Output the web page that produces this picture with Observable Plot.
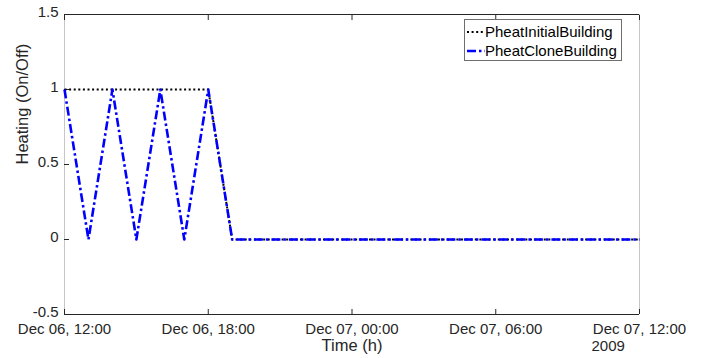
<!DOCTYPE html>
<html>
<head>
<meta charset="utf-8">
<script src="https://cdn.jsdelivr.net/npm/d3@7"></script>
<script src="https://cdn.jsdelivr.net/npm/@observablehq/plot@0.6"></script>
<style>
  html, body { margin: 0; padding: 0; background: #fff; }
  #wrap { position: relative; width: 701px; height: 358px; font-family: "Liberation Sans", Arial, sans-serif; }
  #legend { position: absolute; left: 464px; top: 19px; width: 156px; height: 40px; border: 1px solid #6e6e6e; background: #fff; font-size: 15px; color: #000; }
  .row { position: absolute; left: 0; height: 19px; display: flex; align-items: center; white-space: nowrap; }
  .row svg { margin-left: 2px; margin-right: 0px; }
</style>
</head>
<body>
<div id="wrap"></div>
<script>
// ---- data ----
const times = [
  "2009-12-06T12:00Z","2009-12-06T13:00Z","2009-12-06T14:00Z","2009-12-06T15:00Z",
  "2009-12-06T16:00Z","2009-12-06T17:00Z","2009-12-06T18:00Z","2009-12-06T19:00Z",
  "2009-12-06T20:00Z","2009-12-06T21:00Z","2009-12-06T22:00Z","2009-12-06T23:00Z",
  "2009-12-07T00:00Z","2009-12-07T01:00Z","2009-12-07T02:00Z","2009-12-07T03:00Z",
  "2009-12-07T04:00Z","2009-12-07T05:00Z","2009-12-07T06:00Z","2009-12-07T07:00Z",
  "2009-12-07T08:00Z","2009-12-07T09:00Z","2009-12-07T10:00Z","2009-12-07T11:00Z",
  "2009-12-07T12:00Z"
];
const pheatInitial = [1,1,1,1,1,1,1,0,0,0,0,0,0,0,0,0,0,0,0,0,0,0,0,0,0];
const pheatClone   = [1,0,1,0,1,0,1,0,0,0,0,0,0,0,0,0,0,0,0,0,0,0,0,0,0];
const seriesNames = ["PheatInitialBuilding", "PheatCloneBuilding"];
const xTicks = ["2009-12-06T12:00Z","2009-12-06T18:00Z","2009-12-07T00:00Z","2009-12-07T06:00Z","2009-12-07T12:00Z"];
const yTicks = [-0.5, 0, 0.5, 1, 1.5];
const yearLabel = ["2009"];
const xTitle = "Time (h)";
const yTitle = "Heating (On/Off)";

// ---- build ----
const parse = s => new Date(s);
const tDates = times.map(parse);
const xTickDates = xTicks.map(parse);
const dInit = tDates.map((t, i) => ({t, v: pheatInitial[i]}));
const dClone = tDates.map((t, i) => ({t, v: pheatClone[i]}));
const fmt = d3.utcFormat("%b %d, %H:%M");
const xDomain = [xTickDates[0], xTickDates[xTickDates.length - 1]];
const ink = "#262626";
const font = "Liberation Sans, Arial, sans-serif";

const chart = Plot.plot({
  width: 701, height: 358,
  marginLeft: 64, marginRight: 62, marginTop: 14, marginBottom: 44,
  style: { fontFamily: font, fontSize: "15px", color: ink, background: "#fff" },
  x: { type: "utc", domain: xDomain },
  y: { domain: [-0.5, 1.5] },
  marks: [
    Plot.ruleX(xDomain, { stroke: "#c6c6c6", strokeWidth: 1 }),
    Plot.ruleY([yTicks[0], yTicks[yTicks.length - 1]], { stroke: ink, strokeWidth: 1 }),
    Plot.axisX(xTickDates, { anchor: "bottom", tickSize: 0, tickPadding: 9, tickFormat: fmt, color: ink, fontSize: 15, label: null }),
    Plot.axisX(xTickDates, { anchor: "bottom", tickSize: -5, tickFormat: () => "", color: ink, label: null }),
    Plot.axisX(xTickDates, { anchor: "top", tickSize: -5, tickFormat: () => "", color: ink, label: null }),
    Plot.axisY(yTicks, { anchor: "left", tickSize: 0, tickPadding: 6, dy: -2, tickFormat: d => String(d), color: ink, fontSize: 15, label: null }),
    Plot.axisY(yTicks, { anchor: "left", tickSize: -5, tickFormat: () => "", color: ink, label: null }),
    Plot.line(dInit, { x: "t", y: "v", stroke: "#000", strokeWidth: 2, strokeDasharray: "2,2.6", strokeLinecap: "butt" }),
    Plot.line(dClone, { x: "t", y: "v", stroke: "#0000ff", strokeWidth: 2.6, strokeDasharray: "9,3,2.5,3", strokeLinecap: "butt" }),
    Plot.text([xTitle], { frameAnchor: "bottom", dy: 36.5, fontSize: 16.5, fill: ink }),
    Plot.text([yTitle], { frameAnchor: "left", dx: -42, rotate: -90, fontSize: 16.5, fill: ink }),
    Plot.text(yearLabel, { x: () => xDomain[1], frameAnchor: "bottom", textAnchor: "start", dx: -48, dy: 36, fontSize: 15, fill: ink })
  ]
});

const wrap = document.getElementById("wrap");
wrap.appendChild(chart);

const legend = document.createElement("div");
legend.id = "legend";
const styles = [
  { stroke: "#000", width: 2, dash: "2,2.6" },
  { stroke: "#0000ff", width: 2.6, dash: "9,3,2.5,3" }
];
seriesNames.forEach((name, i) => {
  const row = document.createElement("div");
  row.className = "row";
  row.style.top = (2 + i * 19) + "px";
  const s = styles[i];
  row.innerHTML = `<svg width="18" height="10"><line x1="0" y1="5" x2="18" y2="5" stroke="${s.stroke}" stroke-width="${s.width}" stroke-dasharray="${s.dash}"/></svg><span>${name}</span>`;
  legend.appendChild(row);
});
wrap.appendChild(legend);
</script>
</body>
</html>
